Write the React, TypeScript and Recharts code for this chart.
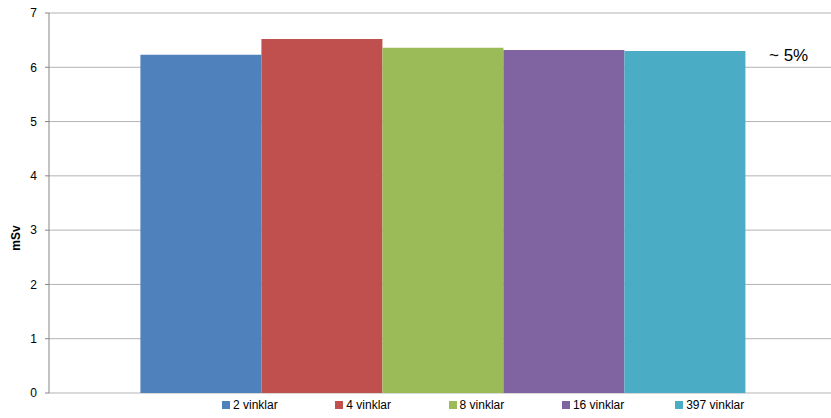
import React from 'react';
import { BarChart, Bar, XAxis, YAxis, CartesianGrid, Legend } from 'recharts';

// one category, five series (number of angles)
const categories = [''];
const seriesNames = ['2 vinklar', '4 vinklar', '8 vinklar', '16 vinklar', '397 vinklar'];
const seriesValues = [6.23, 6.52, 6.36, 6.32, 6.3];
const seriesColors = ['#4F81BD', '#C0504D', '#9BBB59', '#8064A2', '#4BACC6'];
const yTicks = [0, 1, 2, 3, 4, 5, 6, 7];

const data = categories.map((name) => {
  const row: { [key: string]: string | number } = { name };
  seriesNames.forEach((s, i) => {
    row[s] = seriesValues[i];
  });
  return row;
});

const font = '"Liberation Sans", Arial, sans-serif';

const renderLegend = () => (
  <div style={{ display: 'flex', fontFamily: font, fontSize: 12, color: '#000' }}>
    {seriesNames.map((s, i) => (
      <div key={s} style={{ width: 113.3, display: 'flex', alignItems: 'center' }}>
        <span
          style={{
            display: 'inline-block',
            width: 8,
            height: 8,
            background: seriesColors[i],
            marginRight: 3,
          }}
        />
        {s}
      </div>
    ))}
  </div>
);

const App: React.FC = () => {
  return (
    <div style={{ position: 'absolute', left: 0, top: 0, width: 831, height: 418, background: '#fff', overflow: 'hidden' }}>
      <BarChart
        width={831}
        height={418}
        data={data}
        margin={{ top: 13, right: -6, bottom: 11, left: 0 }}
        barCategoryGap="11.6%"
        barGap={0}
      >
        <CartesianGrid vertical={false} stroke="#B3B3B3" />
        <XAxis dataKey="name" tick={false} tickLine={false} height={0} stroke="#868686" />
        <YAxis
          width={49}
          domain={[0, 7]}
          ticks={yTicks}
          interval={0}
          tickSize={4}
          stroke="#868686"
          tick={{ fill: '#000', fontSize: 12, fontFamily: font, dx: -6 }}
        />
        <Legend
          content={renderLegend}
          wrapperStyle={{ position: 'absolute', left: 222, top: 398, width: 600, height: 14 }}
        />
        {seriesNames.map((s, i) => (
          <Bar key={s} dataKey={s} fill={seriesColors[i]} isAnimationActive={false} />
        ))}
      </BarChart>
      <div
        style={{
          position: 'absolute',
          left: 16,
          top: 238,
          transform: 'translate(-50%, -50%) rotate(-90deg)',
          fontFamily: font,
          fontSize: 12,
          fontWeight: 'bold',
        }}
      >
        mSv
      </div>
      <div
        style={{
          position: 'absolute',
          left: 769,
          top: 46,
          fontFamily: font,
          fontSize: 17,
        }}
      >
        ~ 5%
      </div>
    </div>
  );
};

export default App;
